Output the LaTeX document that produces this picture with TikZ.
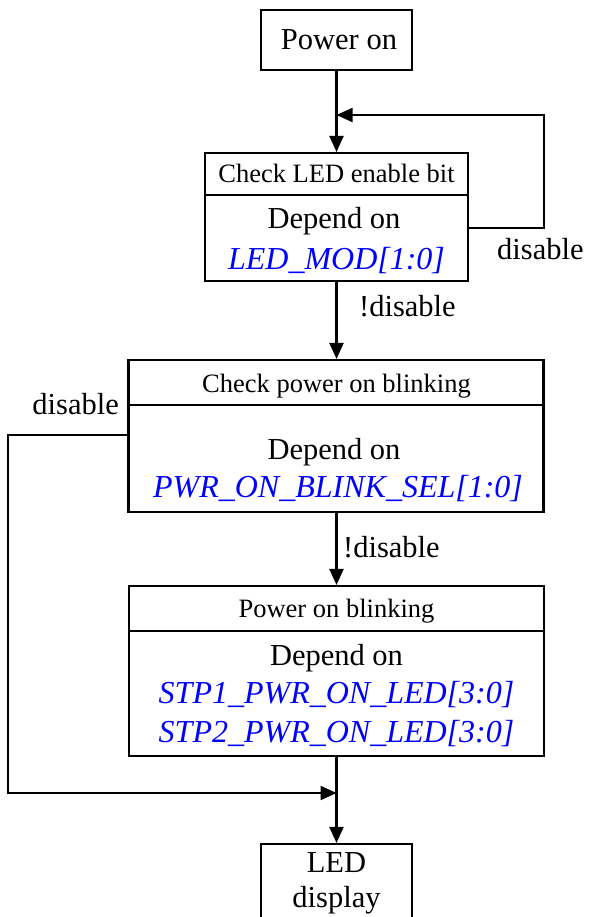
\documentclass[tikz,border=0pt]{standalone}
\usepackage{fontspec}
\setmainfont{Liberation Serif}
\usetikzlibrary{arrows.meta}
\definecolor{regblue}{RGB}{0,0,255}
\begin{document}
\begin{tikzpicture}[x=1pt,y=-1pt,
  box/.style={draw, line width=2.1pt, inner sep=0pt},
  big/.style={font=\fontsize{30.5}{36}\selectfont, inner sep=0pt, anchor=base},
  small/.style={font=\fontsize{26.5}{30}\selectfont, inner sep=0pt, anchor=base},
  reg/.style={inner sep=0pt, anchor=base, text=regblue, font=\fontsize{32}{36}\selectfont\itshape},
  conn/.style={line width=2.1pt},
  arr/.style={conn, -{Triangle[length=16pt,width=14pt]}}]
\useasboundingbox (0,0) rectangle (589,917);
% boxes
\node[box, minimum width=151pt, minimum height=60pt] (pon) at (336.5,40) {};
\node[big] (ponT) at (339,50) {Power on};

\node[box, minimum width=263pt, minimum height=128pt] (led) at (336.5,217) {};
\draw[conn] (led.west |- 0,195) -- (led.east |- 0,195);
\node[small] (ledT) at (336.5,183) {Check LED enable bit};
\node[big] (ledD) at (334,229) {Depend on};
\node[reg] (ledR) at (336.5,269) {LED\_MOD[1:0]};

\node[box, minimum width=415pt, minimum height=152pt] (cpb) at (336,436) {};
\draw[conn] (cpb.west |- 0,405) -- (cpb.east |- 0,405);
\node[small] (cpbT) at (336.5,392) {Check power on blinking};
\node[big] (cpbD) at (334,459) {Depend on};
\node[reg] (cpbR) at (338,497) {PWR\_ON\_BLINK\_SEL[1:0]};

\node[box, minimum width=415pt, minimum height=170pt] (pob) at (336.5,671) {};
\draw[conn] (pob.west |- 0,631) -- (pob.east |- 0,631);
\node[small] (pobT) at (336.5,617) {Power on blinking};
\node[big] (pobD) at (336.5,665) {Depend on};
\node[reg] (pobR1) at (336.5,703) {STP1\_PWR\_ON\_LED[3:0]};
\node[reg] (pobR2) at (336.5,742) {STP2\_PWR\_ON\_LED[3:0]};

\node[box, minimum width=151pt, minimum height=120pt] (disp) at (336.5,904) {};
\node[big] (dispT1) at (336.5,872) {LED};
\node[big] (dispT2) at (336.5,907) {display};

% connectors
\coordinate (m1) at (336.5,115);
\coordinate (fbA) at (544,228);
\coordinate (fbB) at (544,115);
\draw[arr] (pon.south) -- (led.north);
\draw[arr] (led.east |- fbA) -- (fbA) -- (fbB) -- (m1);
\node[big, anchor=base west] (lbl1) at (497,259) {disable};

\draw[arr] (led.south) -- (cpb.north -| led.south);
\node[big, anchor=base west] (lbl2) at (359,316) {!disable};

\coordinate (lA) at (8,435);
\coordinate (lB) at (8,793);
\coordinate (m2) at (336.5,793);
\draw[arr] (cpb.west |- lA) -- (lA) -- (lB) -- (m2);
\node[big, anchor=base east] (lbl3) at (119,414) {disable};

\draw[arr] (cpb.south -| pob.north) -- (pob.north);
\node[big, anchor=base west] (lbl4) at (343,557) {!disable};

\draw[arr] (pob.south) -- (disp.north);
\end{tikzpicture}
\end{document}
